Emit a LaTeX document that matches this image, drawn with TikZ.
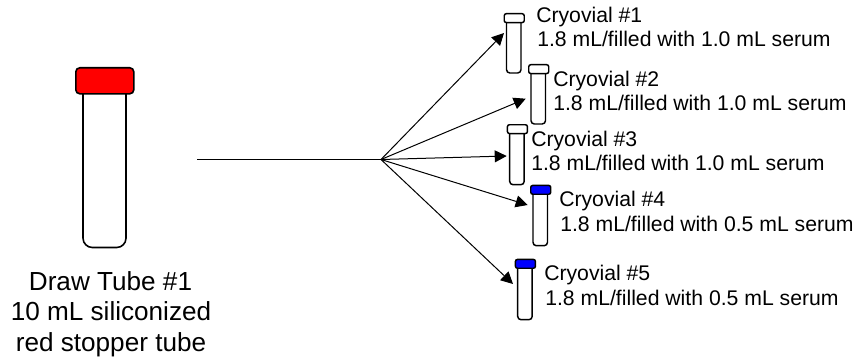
\documentclass[tikz,border=0pt]{standalone}
\usepackage{fontspec}
\setmainfont{Liberation Sans}
\usetikzlibrary{arrows.meta}
\tikzset{
  tubebody/.style={draw=black,line width=1.1pt,fill=white,rounded corners=2.5pt},
  bigbody/.style={draw=black,line width=1.2pt,fill=white,rounded corners=7pt},
  tubecap/.style={draw=black,line width=1.1pt,rounded corners=1.5pt},
  lab/.style={anchor=base west,inner sep=0pt,font=\fontsize{15.9}{16}\selectfont},
  biglab/.style={anchor=base,inner sep=0pt,font=\fontsize{19.6}{20}\selectfont},
  feed/.style={draw=black,line width=0.75pt,-{Triangle[length=9pt,width=9pt]}},
  trunk/.style={draw=black,line width=1pt}
}
% #1 left of cap, #2 top, #3 bottom of body, #4 cap colour, #5 name
\newcommand{\myvial}[5]{
  \draw[tubebody] ({#1+3},{#2+8}) -- ({#1+3},#3) -- ({#1+17.5},#3) -- ({#1+17.5},{#2+8});
  \node[tubecap,fill=#4,minimum width=15pt,minimum height=6.6pt,inner sep=0pt,anchor=north west] (#5) at (#1,#2) {};
}
\begin{document}
\begin{tikzpicture}[x=0.75pt,y=-0.75pt]
\useasboundingbox (0,0) rectangle (856,360);
% draw tube
\draw[bigbody] (83,90) -- (83,247.5) -- (126,247.5) -- (126,90);
\node[draw=black,line width=1.2pt,fill=red,rounded corners=3pt,minimum width=43.5pt,minimum height=19.5pt,inner sep=0pt,anchor=north west] (cap0) at (75,67) {};
\node[biglab] (l1) at (110.5,290) {Draw Tube \#1};
\node[biglab] (l2) at (111,320) {10 mL siliconized};
\node[biglab] (l3) at (111,351) {red stopper tube};
% vials
\myvial{503.5}{13}{73}{white}{v1}
\myvial{528}{64}{124}{white}{v2}
\myvial{506.7}{124}{184.7}{white}{v3}
\myvial{530}{184.7}{245.7}{blue}{v4}
\myvial{514.7}{258.7}{319.7}{blue}{v5}
% labels
\node[lab] (a1) at (536,22.7) {Cryovial \#1};
\node[lab] (b1) at (537,46.7) {1.8 mL/filled with 1.0 mL serum};
\node[lab] (a2) at (553,86) {Cryovial \#2};
\node[lab] (b2) at (553,110.7) {1.8 mL/filled with 1.0 mL serum};
\node[lab] (a3) at (531,146) {Cryovial \#3};
\node[lab] (b3) at (531,170) {1.8 mL/filled with 1.0 mL serum};
\node[lab] (a4) at (559,206) {Cryovial \#4};
\node[lab] (b4) at (560,231) {1.8 mL/filled with 0.5 mL serum};
\node[lab] (a5) at (544,280.7) {Cryovial \#5};
\node[lab] (b5) at (545,305) {1.8 mL/filled with 0.5 mL serum};
% connectors
\coordinate (start) at (197,159.5);
\coordinate (hub) at (381,159.5);
\coordinate (t1) at (504,33);
\coordinate (t2) at (525.7,98.7);
\coordinate (t3) at (506.7,156);
\coordinate (t4) at (527.7,205);
\coordinate (t5) at (513,284);
\draw[trunk] (start) -- (hub);
\foreach \t in {t1,t2,t3,t4,t5} \draw[feed] (hub) -- (\t);
\end{tikzpicture}
\end{document}
